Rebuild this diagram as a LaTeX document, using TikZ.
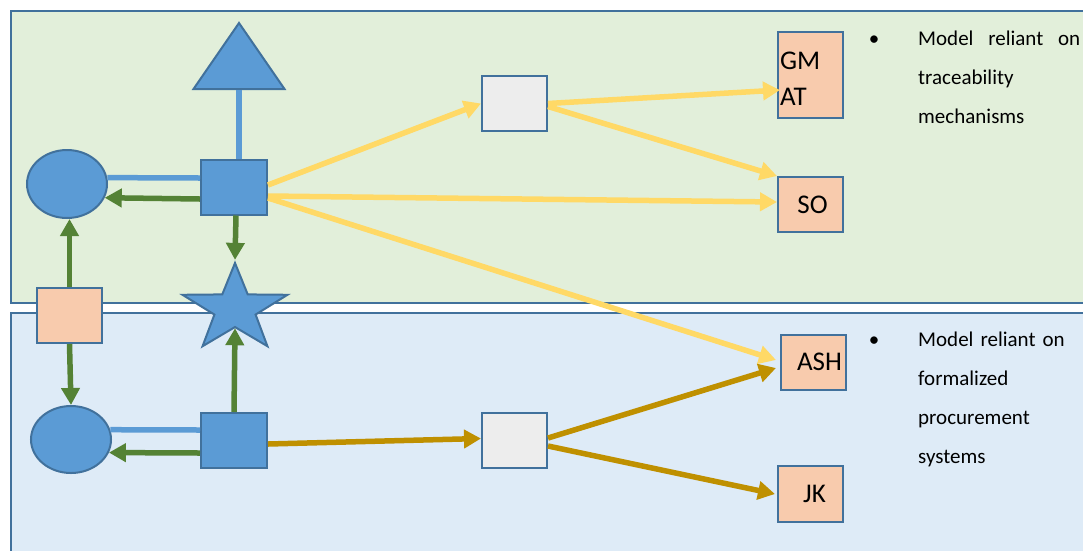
\documentclass[tikz,border=0pt]{standalone}
\usepackage{fontspec}
\setmainfont{Carlito}
\usetikzlibrary{shapes.geometric,arrows.meta,calc}
\definecolor{panelG}{HTML}{E2EFDA}
\definecolor{panelB}{HTML}{DEEBF7}
\definecolor{bordc}{HTML}{41719C}
\definecolor{shapeblue}{HTML}{5B9BD5}
\definecolor{peachc}{HTML}{F8CBAD}
\definecolor{grayc}{HTML}{EDEDED}
\definecolor{greenc}{HTML}{548235}
\definecolor{yellowc}{HTML}{FFD966}
\definecolor{goldc}{HTML}{BF9000}
\begin{document}
\begin{tikzpicture}[x=1pt,y=-1pt,
  shp/.style={draw=bordc, line width=2pt, inner sep=0pt},
  bluebox/.style={shp, fill=shapeblue, rectangle, minimum width=66pt, minimum height=55pt},
  graybox/.style={shp, fill=grayc, rectangle, minimum width=65pt, minimum height=55pt},
  peachbox/.style={shp, fill=peachc, rectangle, minimum width=65pt, minimum height=55pt,
     font=\fontsize{27pt}{36pt}\selectfont},
  blueell/.style={shp, fill=shapeblue, ellipse, minimum width=80pt, minimum height=68pt},
  tip/.style={-{Triangle[length=17pt,width=18pt]}},
  garrow/.style={draw=greenc, line width=5.5pt, tip},
  yarrow/.style={draw=yellowc, line width=5.5pt, tip},
  darrow/.style={draw=goldc, line width=5.5pt, tip},
  bline/.style={draw=shapeblue, line width=5.5pt},
  bultext/.style={font=\fontsize{21pt}{39pt}\selectfont, inner sep=0pt},
  panel/.style={draw=bordc, line width=2.2pt}
]
\useasboundingbox (0,0) rectangle (1083,550);
\clip (0,0) rectangle (1083,550);
% panels
\draw[panel, fill=panelG] (11,11) rectangle (1100,303);
\draw[panel, fill=panelB] (11,313) rectangle (1100,570);

% left shapes
\begin{scope}[shift={(239,67)}]
  \node[shp, fill=shapeblue, regular polygon, regular polygon sides=3, minimum size=88pt,
        xscale=1.194, transform shape] (tri) at (0,0) {};
\end{scope}
\begin{scope}[shift={(235,309)}]
  \node[shp, fill=shapeblue, star, star points=5, star point ratio=2.55, minimum size=92pt,
        xscale=1.2, transform shape] (star) at (0,0) {};
\end{scope}
\node[bluebox] (sq1) at (234,187) {};
\node[bluebox] (sq2) at (234,440.5) {};
\node[blueell] (ell1) at (67,184) {};
\node[blueell, minimum height=67pt] (ell2) at (71,439.5) {};
\node[peachbox] (pk) at (69.5,315.5) {};

% middle gray boxes
\node[graybox] (g1) at (514.5,103.5) {};
\node[graybox] (g2) at (514.5,440.5) {};

% right peach boxes
\node[peachbox, minimum height=86pt, text width=61pt, align=left, text height=25pt, inner xsep=2pt] (gmat) at (810.5,75) {GM\\AT};
\node[peachbox] (so) at (810.5,204.5) {\hspace{4pt}SO};
\node[peachbox] (ash) at (813.5,362) {\hspace{12pt}ASH};
\node[peachbox, minimum height=56pt] (jk) at (810.5,494) {\hspace{8pt}JK};

% bullet texts
\node[bultext, anchor=base] (b1) at (874,45) {•};
\node[bultext, anchor=north west, text height=16pt, text width=165pt, align=left] (t1) at (918,29)
  {\makebox[162pt][l]{Model\hfill reliant\hfill on}\\traceability\\mechanisms};
\node[bultext, anchor=base] (b2) at (874,346) {•};
\node[bultext, anchor=north west, text height=16pt, text width=165pt, align=left] (t2) at (918,330)
  {Model reliant on\\formalized\\procurement\\systems};

% blue plain connectors
\draw[bline] (tri.south) -- (tri.south |- sq1.north);
\draw[bline] ([yshift=9pt]sq1.west) -- (ell1.9);
\draw[bline] ([yshift=10.5pt]sq2.west) -- (ell2.14);

% green arrows
\draw[garrow] ([yshift=-12pt]sq1.west) -- (ell1.-20);
\draw[garrow] ([xshift=2pt]sq1.south) -- (star.north);
\draw[garrow] (pk.north) -- (pk.north |- ell1.south);
\draw[garrow] (pk.south) -- (ell2.north);
\draw[garrow] (sq2.north) -- (star.south);
\draw[garrow] ([yshift=-12.5pt]sq2.west) -- (ell2.-19);

% yellow arrows
\draw[yarrow] ([yshift=2pt]sq1.east) -- ([yshift=0pt]g1.west);
\draw[yarrow] ([yshift=-9pt]sq1.east) -- ([yshift=2.5pt]so.west);
\draw[yarrow] ([yshift=-11pt]sq1.east) -- ([xshift=-4pt,yshift=2pt]ash.west);
\draw[yarrow] (g1.east) -- ([xshift=3pt,yshift=-15pt]gmat.west);
\draw[yarrow] ([yshift=-3pt]g1.east) -- (so.north west);

% gold arrows
\draw[darrow] ([yshift=-3.5pt]sq2.east) -- ([yshift=2pt]g2.west);
\draw[darrow] ([yshift=2.5pt]g2.east) -- ([xshift=-4pt,yshift=-6pt]ash.west);
\draw[darrow] ([yshift=-5.5pt]g2.east) -- ([xshift=-2pt]jk.west);
\end{tikzpicture}
\end{document}
